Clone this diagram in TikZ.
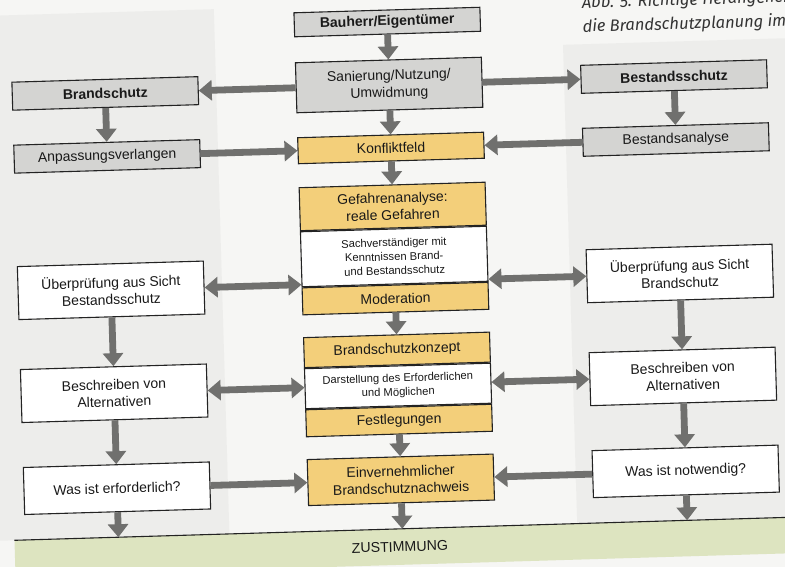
\documentclass[tikz,border=0pt]{standalone}
\usepackage{fontspec}
\setmainfont{Liberation Sans}
\newfontfamily\capfont{Fira Sans}
\usetikzlibrary{arrows.meta,positioning}

\definecolor{boxgrey}{RGB}{212,212,210}
\definecolor{boxyellow}{RGB}{243,207,122}
\definecolor{boxline}{RGB}{35,35,35}
\definecolor{arrowgrey}{RGB}{112,112,110}
\definecolor{bandgreen}{RGB}{221,228,192}
\definecolor{pagebg}{RGB}{246,246,244}
\definecolor{panelbg}{RGB}{237,237,235}

\begin{document}
\begin{tikzpicture}[
    x=1pt, y=-1pt,
    box/.style={draw=boxline, line width=1.1pt, minimum width=186pt, inner sep=2pt,
        align=center, text=black!90, font=\fontsize{14}{17}\selectfont},
    greybox/.style={box, fill=boxgrey},
    greyhead/.style={greybox, font=\bfseries\fontsize{14}{17}\selectfont},
    whitebox/.style={box, fill=white},
    yellowbox/.style={box, fill=boxyellow},
    smallbox/.style={whitebox, font=\fontsize{11.2}{14}\selectfont},
    flow/.style={-{Triangle[width=20pt,length=13pt]}, line width=6.8pt, draw=arrowgrey},
    twoway/.style={{Triangle[width=20pt,length=13pt]}-{Triangle[width=20pt,length=13pt]},
        line width=6.8pt, draw=arrowgrey},
]

\useasboundingbox (0,0) rectangle (785,567);
\clip (0,0) rectangle (785,567);
\fill[pagebg] (0,0) rectangle (785,567);

\begin{scope}[rotate around={1.7:(392,283)}, transform shape]

% --- page panels ---
\fill[panelbg] (-10,4) rectangle (222,529);
\fill[panelbg] (570,50) rectangle (820,529);

% --- caption (cut off) ---
\node[anchor=base west, inner sep=0pt, text=black!80,
      font=\capfont\itshape\fontsize{16.5}{20}\selectfont] (cap1) at (590,14) {Abb. 5: Richtige Herangehensweise an};
\node[anchor=base west, inner sep=0pt, text=black!80,
      font=\capfont\itshape\fontsize{16.5}{20}\selectfont] (cap2) at (590,38) {die Brandschutzplanung im};

% --- top part ---
\node[greyhead, minimum height=24pt] (bauherr) at (395,22) {Bauherr/Eigentümer};
\node[greybox, minimum height=50pt] (sanier) at (395,85) {Sanierung/Nutzung/\\Umwidmung};
\node[greyhead, minimum height=28pt] (brand) at (111,85) {Brandschutz};
\node[greyhead, minimum height=28pt] (bestand) at (680,85) {Bestandsschutz};
\node[greybox, minimum height=28pt] (anpass) at (111,148) {Anpassungsverlangen};
\node[yellowbox, minimum height=26pt] (konflikt) at (395,148) {Konfliktfeld};
\node[greybox, minimum height=28pt] (analyse) at (680,148) {Bestandsanalyse};

% --- Gefahrenanalyse block ---
\node[yellowbox, minimum height=43pt] (gefTop) at (395,206.5) {Gefahrenanalyse:\\reale Gefahren};
\node[smallbox, minimum height=55pt, below=0pt of gefTop] (gefMid)
    {Sachverständiger mit\\Kenntnissen Brand-\\und Bestandsschutz};
\node[yellowbox, minimum height=27pt, below=0pt of gefMid] (gefBot) {Moderation};

\node[whitebox, minimum height=53pt] (uebL) at (111,282) {Überprüfung aus Sicht\\Bestandsschutz};
\node[whitebox, minimum height=53pt] (uebR) at (680,282) {Überprüfung aus Sicht\\Brandschutz};

% --- Brandschutzkonzept block ---
\node[yellowbox, minimum height=30pt] (kzTop) at (395,350) {Brandschutzkonzept};
\node[smallbox, minimum height=40pt, below=0pt of kzTop] (kzMid)
    {Darstellung des Erforderlichen\\und Möglichen};
\node[yellowbox, minimum height=27pt, below=0pt of kzMid] (kzBot) {Festlegungen};

\node[whitebox, minimum height=53pt] (beschL) at (111,385) {Beschreiben von\\Alternativen};
\node[whitebox, minimum height=53pt] (beschR) at (680,385) {Beschreiben von\\Alternativen};

% --- bottom row ---
\node[yellowbox, minimum height=46pt] (einv) at (395,480) {Einvernehmlicher\\Brandschutznachweis};
\node[whitebox, minimum height=47pt] (werf) at (111,480) {Was ist erforderlich?};
\node[whitebox, minimum height=47pt] (wnot) at (680,480) {Was ist notwendig?};

% --- ZUSTIMMUNG band ---
\fill[bandgreen] (7,529) rectangle (830,565);
\draw[boxline, line width=1.1pt] (7,529) -- (830,529);
\coordinate (bandtop) at (0,529);
\node[text=black!90, font=\fontsize{14.2}{17}\selectfont] (zust) at (392,547) {ZUSTIMMUNG};

% --- arrows ---
\draw[flow] (bauherr.south) -- (sanier.north);
\draw[flow] (sanier.west) -- (brand.east);
\draw[flow] (sanier.east) -- (bestand.west);
\draw[flow] (brand.south) -- (anpass.north);
\draw[flow] (bestand.south) -- (analyse.north);
\draw[flow] (sanier.south) -- (konflikt.north);
\draw[flow] (anpass.east) -- (konflikt.west);
\draw[flow] (analyse.west) -- (konflikt.east);
\draw[flow] (konflikt.south) -- (gefTop.north);

\draw[twoway] (uebL.east) -- (uebL.east -| gefMid.west);
\draw[twoway] (gefMid.east |- uebR.west) -- (uebR.west);
\draw[flow] (gefBot.south) -- (kzTop.north);
\draw[flow] (uebL.south) -- (beschL.north);
\draw[flow] (uebR.south) -- (beschR.north);

\draw[twoway] (beschL.east) -- (beschL.east -| kzMid.west);
\draw[twoway] (kzMid.east |- beschR.west) -- (beschR.west);
\draw[flow] (kzBot.south) -- (einv.north);
\draw[flow] (beschL.south) -- (werf.north);
\draw[flow] (beschR.south) -- (wnot.north);

\draw[flow] (werf.east) -- (einv.west);
\draw[flow] (wnot.west) -- (einv.east);
\draw[flow] (werf.south) -- (werf.south |- bandtop);
\draw[flow] (einv.south) -- (einv.south |- bandtop);
\draw[flow] (wnot.south) -- (wnot.south |- bandtop);

\end{scope}
\end{tikzpicture}
\end{document}
